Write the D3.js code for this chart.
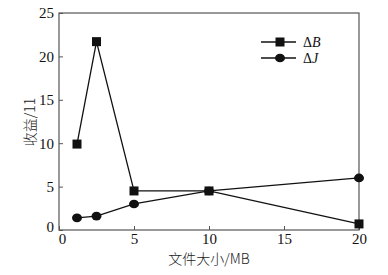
<!DOCTYPE html>
<html>
<head>
<meta charset="utf-8">
<script src="https://cdn.jsdelivr.net/npm/d3@7"></script>
<style>
body { margin: 0; background: #fff; }
svg text { font-family: "Liberation Serif", "Times New Roman", serif; fill: #111; }
</style>
</head>
<body>
<div id="chart"></div>
<script>
// datos
const sizes = [1.2, 2.5, 5, 10, 20];
const deltaB = [9.9, 21.7, 4.5, 4.5, 0.7];
const deltaJ = [1.4, 1.6, 3.0, 4.5, 6.0];
const xTicks = [0, 5, 10, 15, 20];
const yTicks = [0, 5, 10, 15, 20, 25];

const width = 388, height = 275;
const m = {left: 59, right: 29, top: 13, bottom: 45};

const svg = d3.select("#chart").append("svg")
    .attr("width", width)
    .attr("height", height);

const x = d3.scaleLinear().domain([0, 20]).range([m.left, width - m.right]);
const y = d3.scaleLinear().domain([0, 25]).range([height - m.bottom, m.top]);

// marco
svg.append("rect")
    .attr("x", x(0)).attr("y", y(25))
    .attr("width", x(20) - x(0)).attr("height", y(0) - y(25))
    .attr("fill", "none").attr("stroke", "#555").attr("stroke-width", 1.2);

const ax = svg.append("g")
    .attr("transform", `translate(0,${y(0)})`)
    .call(d3.axisBottom(x).tickValues(xTicks).tickSizeInner(-4).tickSizeOuter(0).tickPadding(3));
const ay = svg.append("g")
    .attr("transform", `translate(${x(0)},0)`)
    .call(d3.axisLeft(y).tickValues(yTicks).tickSizeInner(-4).tickSizeOuter(0).tickPadding(5));
[ax, ay].forEach(g => {
    g.attr("font-family", "'Liberation Serif', serif").attr("font-size", 15);
    g.select(".domain").remove();
    g.selectAll("line").attr("stroke", "#555");
    g.selectAll("text").attr("fill", "#222");
});
// el 0 del eje x un poco desplazado
ax.selectAll(".tick").filter(d => d === 0).select("text").attr("dx", 3);
ay.selectAll(".tick").filter(d => d === 0).select("text").attr("dy", "0.1em");

const line = d3.line().x((d, i) => x(sizes[i])).y(d => y(d));

svg.append("path").datum(deltaB).attr("d", line)
    .attr("fill", "none").attr("stroke", "#111").attr("stroke-width", 1.3);
svg.append("path").datum(deltaJ).attr("d", line)
    .attr("fill", "none").attr("stroke", "#111").attr("stroke-width", 1.3);

svg.selectAll("rect.mk").data(deltaB).enter().append("rect")
    .attr("class", "mk")
    .attr("x", (d, i) => x(sizes[i]) - 4.5)
    .attr("y", d => y(d) - 4.5)
    .attr("width", 9).attr("height", 9)
    .attr("fill", "#111");
svg.selectAll("ellipse.mk").data(deltaJ).enter().append("ellipse")
    .attr("class", "mk")
    .attr("cx", (d, i) => x(sizes[i]))
    .attr("cy", d => y(d))
    .attr("rx", 5).attr("ry", 4.3)
    .attr("fill", "#111");

// leyenda
const leg = svg.append("g");
[["B", 42, "sq"], ["J", 58, "ci"]].forEach(([k, ly, mk]) => {
    leg.append("line").attr("x1", 261).attr("x2", 296).attr("y1", ly).attr("y2", ly)
        .attr("stroke", "#111").attr("stroke-width", 1.3);
    if (mk === "sq") {
        leg.append("rect").attr("x", 275.5).attr("y", ly - 4.5).attr("width", 9).attr("height", 9).attr("fill", "#111");
    } else {
        leg.append("ellipse").attr("cx", 280).attr("cy", ly).attr("rx", 5).attr("ry", 4.3).attr("fill", "#111");
    }
    const t = leg.append("text").attr("x", 303).attr("y", ly + 5).style("font-size", "14px");
    t.append("tspan").text("Δ");
    t.append("tspan").style("font-style", "italic").text(k);
});

// etiquetas de ejes
svg.append("text")
    .attr("x", 209).attr("y", 264)
    .attr("text-anchor", "middle")
    .style("font-size", "14px")
    .style("font-family", "'Noto Sans CJK SC', sans-serif")
    .style("font-weight", 300)
    .style("fill", "#222")
    .text("文件大小/MB");

svg.append("text")
    .attr("transform", "translate(35,122) rotate(-90)")
    .attr("text-anchor", "middle")
    .style("font-size", "14px")
    .style("font-family", "'Noto Sans CJK SC', sans-serif")
    .style("font-weight", 300)
    .style("fill", "#222")
    .text("收益/11");
</script>
</body>
</html>
